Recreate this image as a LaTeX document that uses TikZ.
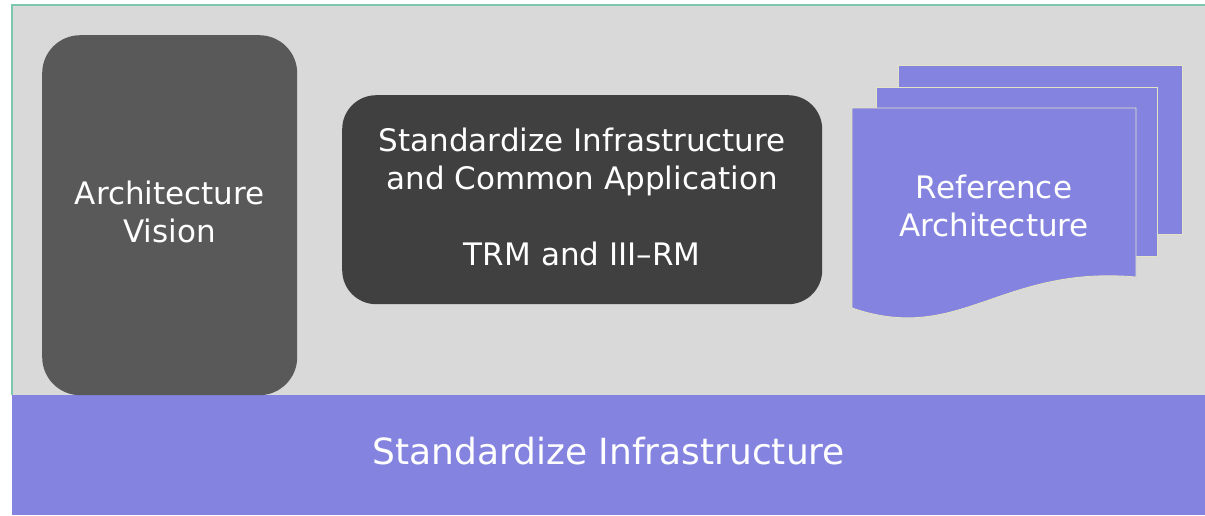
\documentclass[tikz,border=0pt]{standalone}
\usepackage{fontspec}
\setmainfont{DejaVu Sans}
\definecolor{bggray}{HTML}{D9D9D9}
\definecolor{boxone}{HTML}{595959}
\definecolor{boxtwo}{HTML}{404040}
\definecolor{lav}{HTML}{8484E0}
\definecolor{edgegreen}{HTML}{7CC8AC}
\definecolor{sheetedge}{HTML}{E4E4C4}
\begin{document}
\begin{tikzpicture}[x=1pt,y=-1pt,
  darkbox/.style={rounded corners=38pt, inner sep=0pt, text=white, align=center,
    font=\fontsize{31}{38}\selectfont},
  sheet/.style={fill=lav, draw=sheetedge, line width=0.8pt},
  label/.style={text=white, align=center, font=\fontsize{31}{38}\selectfont}]
\useasboundingbox (0,0) rectangle (1205,515);
% background panel
\fill[white] (0,0) rectangle (1205,515);
\node[fill=bggray, inner sep=0pt, minimum width=1193pt, minimum height=390pt, anchor=north west] (panel) at (12,5) {};
\draw[edgegreen, line width=1.2pt] (panel.south west) -- (panel.north west) -- (panel.north east);
% bottom bar
\node[fill=lav, inner sep=0pt, minimum width=1193pt, minimum height=120pt, anchor=north west,
  text=white, font=\fontsize{36}{42}\selectfont] (bar) at (12,395) {};
\node[text=white, font=\fontsize{36}{42}\selectfont] (bartext) at ([yshift=4pt]bar.center) {Standardize Infrastructure};
% architecture vision
\node[darkbox, fill=boxone, minimum width=255pt, minimum height=360pt, anchor=north west] (vision) at (42,35) {};
\node[label] (visiontext) at ([yshift=3pt]vision.center) {Architecture\\Vision};
% middle box
\node[darkbox, rounded corners=34pt, fill=boxtwo, minimum width=480pt, minimum height=209pt, anchor=north west] (std) at (342,95) {};
\node[label] (stdtext) at ([yshift=2.5pt]std.center)
  {Standardize Infrastructure\\and Common Application\\[38pt]TRM and III--RM};
% document stack
\draw[sheet] (898,65) rectangle (1182,234);
\draw[sheet] (876,87) rectangle (1157,256);
\draw[sheet] (852,108) -- (1136,108) -- (1136,277)
  .. controls (1000,265) and (960,345) .. (852,308) -- cycle;
\node[label] (ref) at (994,206) {Reference\\Architecture};
\end{tikzpicture}
\end{document}
